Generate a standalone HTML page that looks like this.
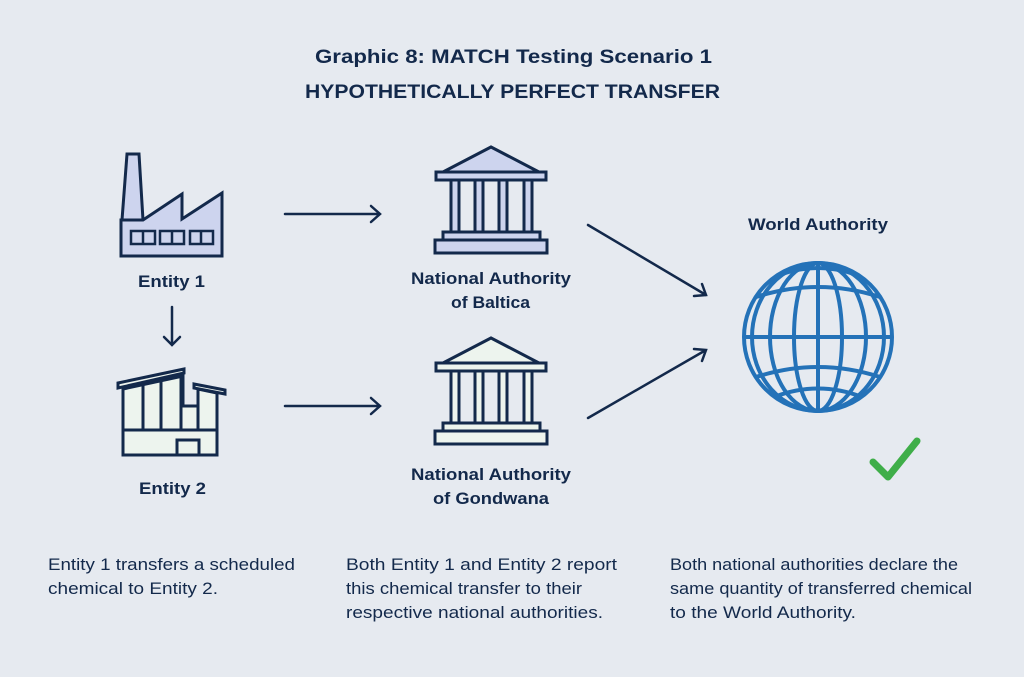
<!DOCTYPE html>
<html><head><style>html,body{margin:0;padding:0;background:#e6eaf0}svg{display:block}</style></head>
<body>
<svg width="1024" height="677" viewBox="0 0 1024 677" xmlns="http://www.w3.org/2000/svg" font-family="Liberation Sans, sans-serif">
<rect width="1024" height="677" fill="#e6eaf0"/>
<g fill="#13294b" font-weight="bold">
<text x="315" y="63" font-size="19" textLength="397" lengthAdjust="spacingAndGlyphs">Graphic 8: MATCH Testing Scenario 1</text>
<text x="305" y="98" font-size="19" textLength="415" lengthAdjust="spacingAndGlyphs">HYPOTHETICALLY PERFECT TRANSFER</text>
<text x="138" y="287" font-size="17" textLength="67" lengthAdjust="spacingAndGlyphs">Entity 1</text>
<text x="139" y="494" font-size="17" textLength="67" lengthAdjust="spacingAndGlyphs">Entity 2</text>
<text x="411" y="284" font-size="17" textLength="160" lengthAdjust="spacingAndGlyphs">National Authority</text>
<text x="451" y="308" font-size="17" textLength="79" lengthAdjust="spacingAndGlyphs">of Baltica</text>
<text x="411" y="480" font-size="17" textLength="160" lengthAdjust="spacingAndGlyphs">National Authority</text>
<text x="433" y="504" font-size="17" textLength="116" lengthAdjust="spacingAndGlyphs">of Gondwana</text>
<text x="748" y="230" font-size="17" textLength="140" lengthAdjust="spacingAndGlyphs">World Authority</text>
</g>
<g fill="#13294b" font-size="17">
<text x="48" y="570" textLength="247" lengthAdjust="spacingAndGlyphs">Entity 1 transfers a scheduled</text>
<text x="48" y="594" textLength="170" lengthAdjust="spacingAndGlyphs">chemical to Entity 2.</text>
<text x="346" y="570" textLength="271" lengthAdjust="spacingAndGlyphs">Both Entity 1 and Entity 2 report</text>
<text x="346" y="594" textLength="236" lengthAdjust="spacingAndGlyphs">this chemical transfer to their</text>
<text x="346" y="618" textLength="257" lengthAdjust="spacingAndGlyphs">respective national authorities.</text>
<text x="670" y="570" textLength="288" lengthAdjust="spacingAndGlyphs">Both national authorities declare the</text>
<text x="670" y="594" textLength="302" lengthAdjust="spacingAndGlyphs">same quantity of transferred chemical</text>
<text x="670" y="618" textLength="186" lengthAdjust="spacingAndGlyphs">to the World Authority.</text>
</g>
<!-- arrows -->
<g stroke="#13294b" stroke-width="2.5" fill="none" stroke-linecap="round">
<path d="M285 214H380M371 206L380 214L371 222"/>
<path d="M285 406H380M371 398L380 406L371 414"/>
<path d="M172 307V345M164 337L172 345L180 337"/>
<path d="M588 225L706 295M694 296L706 295L702 284"/>
<path d="M588 418L706 350M702 361L706 350L694 349"/>
</g>
<!-- factory -->
<g stroke="#13294b" stroke-width="3" fill="#cdd4ee" stroke-linejoin="miter">
<path d="M127 154H139L143 220H122Z"/>
<path d="M121 220H143L182 194V219L222 193V256H121Z"/>
<g fill="none" stroke-width="2.5"><rect x="131" y="231" width="24" height="13"/><line x1="143" y1="231" x2="143" y2="244"/><rect x="160" y="231" width="24" height="13"/><line x1="172" y1="231" x2="172" y2="244"/><rect x="190" y="231" width="23" height="13"/><line x1="201" y1="231" x2="201" y2="244"/></g>
</g>
<!-- entity 2 building -->
<g stroke="#13294b" stroke-width="3" fill="#edf4ee">
<path d="M123 389L183 376V406H198V389L217 393V455H123Z"/>
<path d="M118 383L184 369V373L118 388Z"/>
<path d="M194 384L225 390V394L194 388Z"/>
<path d="M123 430H217M143 384V430M161 380V430M181 376V430M198 406V430M177 440H199V455H177Z" fill="none"/>
</g>
<!-- temples -->
<g stroke="#13294b" stroke-width="3" fill="#cdd4ee">
<path d="M443 172L491 147L539 172Z"/>
<rect x="436" y="172" width="110" height="8"/>
<rect x="451" y="180" width="8" height="52"/><rect x="475" y="180" width="8" height="52"/><rect x="499" y="180" width="8" height="52"/><rect x="524" y="180" width="8" height="52"/>
<rect x="443" y="232" width="97" height="8"/>
<rect x="435" y="240" width="112" height="13"/>
</g>
<g stroke="#13294b" stroke-width="3" fill="#edf4ee" transform="translate(0,191)">
<path d="M443 172L491 147L539 172Z"/>
<rect x="436" y="172" width="110" height="8"/>
<rect x="451" y="180" width="8" height="52"/><rect x="475" y="180" width="8" height="52"/><rect x="499" y="180" width="8" height="52"/><rect x="524" y="180" width="8" height="52"/>
<rect x="443" y="232" width="97" height="8"/>
<rect x="435" y="240" width="112" height="13"/>
</g>
<!-- globe -->
<g stroke="#2472b8" stroke-width="4" fill="none">
<circle cx="818" cy="337" r="74"/>
<line x1="744" y1="337" x2="892" y2="337"/>
<line x1="818" y1="263" x2="818" y2="411"/>
<ellipse cx="818" cy="337" rx="24" ry="74"/>
<ellipse cx="818" cy="337" rx="48" ry="74"/>
<ellipse cx="818" cy="337" rx="66" ry="74"/>
<path d="M756 297Q818 277 880 297"/>
<path d="M756 377Q818 357 880 377"/>
<path d="M782 274Q818 262 854 274"/>
<path d="M774 397Q818 380 862 397"/>
</g>
<path d="M873 462L888 477L917 441" stroke="#3fae49" stroke-width="7" fill="none" stroke-linecap="round" stroke-linejoin="round"/>
</svg>
</body></html>
